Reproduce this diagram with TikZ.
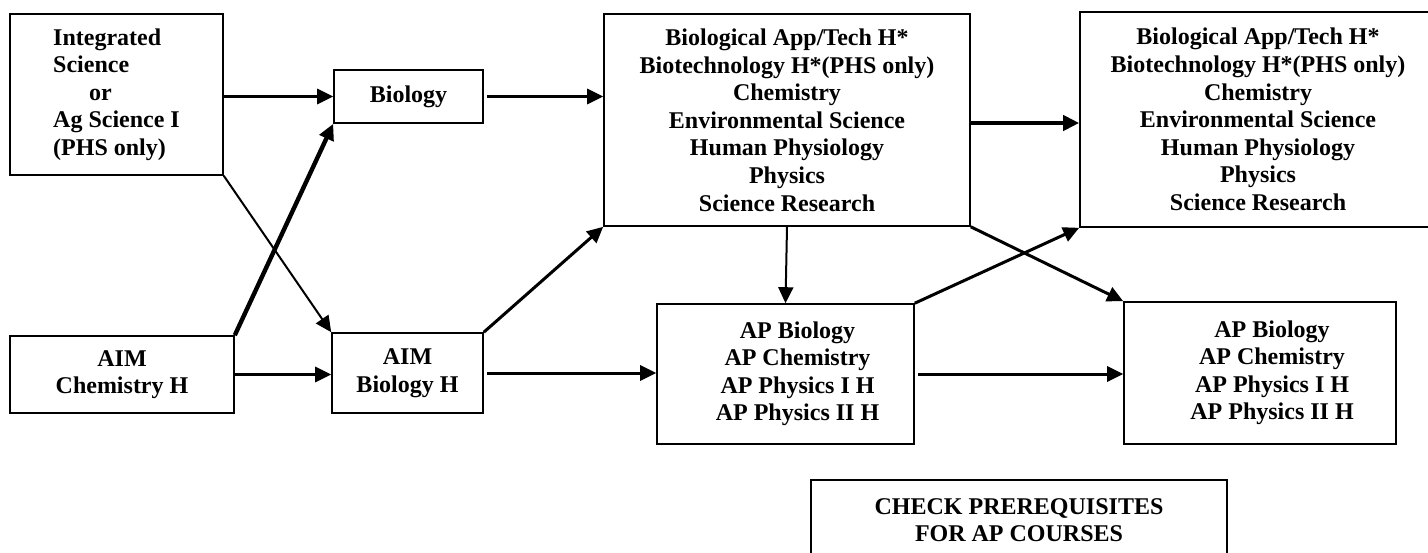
\documentclass[tikz,border=0pt]{standalone}
\usepackage{fontspec}
\setmainfont{Liberation Serif}
\usetikzlibrary{arrows.meta,positioning}
\tikzset{
    %Define standard arrow tip
    >={Triangle[length=8pt,width=7.5pt]},
    %Define style for boxes
    box/.style={
           rectangle,
           draw=black, line width=0.8pt,
           inner sep=0pt,
           align=center,
           font=\bfseries\fontsize{12}{13.8}\selectfont},
    % Define arrow styles
    imply/.style={
           ->,
           line width=1.5pt},
    slim/.style={
           ->,
           line width=1pt},
    heavy/.style={
           ->,
           line width=2.2pt}
}

\begin{document}
\begin{tikzpicture}[x=0.5pt,y=-0.5pt]
    \useasboundingbox (0,0) rectangle (1428,552);
 %nodes
    \node[box, align=left, minimum width=106.5pt, minimum height=80.5pt] (integ) at (116.5,94.5)
        {Integrated\\Science\\\hspace*{18pt}or\\Ag Science I\\(PHS only)};
    \node[box, minimum width=74.5pt, minimum height=26.5pt] (bio) at (408.5,96.5) {Biology};
    \node[box, minimum width=112pt, minimum height=38.5pt] (aimchem) at (122,374.5) {AIM\\Chemistry H};
    \node[box, minimum width=75.5pt, minimum height=40pt] (aimbio) at (407.5,373) {AIM\\Biology H};
    \node[box, minimum width=183pt, minimum height=106pt] (big1) at (787,120)
        {Biological App/Tech H*\\Biotechnology H*(PHS only)\\Chemistry\\Environmental Science\\Human Physiology\\Physics\\Science Research};
    \node[box, minimum width=178pt, minimum height=107.5pt] (big2) at (1258,119.5)
        {Biological App/Tech H*\\Biotechnology H*(PHS only)\\Chemistry\\Environmental Science\\Human Physiology\\Physics\\Science Research};
    \node[box, minimum width=128.5pt, minimum height=70pt] (ap1) at (785.5,374)
        {\begin{tabular}{@{\hspace{12pt}}c@{}}AP Biology\\AP Chemistry\\AP Physics I H\\AP Physics II H\end{tabular}};
    \node[box, minimum width=136pt, minimum height=71pt] (ap2) at (1260,373)
        {\begin{tabular}{@{\hspace{12pt}}c@{}}AP Biology\\AP Chemistry\\AP Physics I H\\AP Physics II H\end{tabular}};
    \node[box, minimum width=208pt, minimum height=40pt] (check) at (1019,520)
        {CHECK PREREQUISITES\\FOR AP COURSES};
 %edges
    \draw[imply] (integ.east |- bio.west) -- (bio.west);
    \draw[imply, shorten <=1.5pt] (bio.east) -- (bio.east -| big1.west);
    \draw[heavy] (aimchem.north east) -- (bio.south west);
    \draw[slim] (integ.south east) -- (aimbio.north west);
    \draw[imply] (aimchem.east) -- (aimchem.east -| aimbio.west);
    \draw[imply] (aimbio.north east) -- (big1.south west);
    \draw[imply, shorten <=1.5pt] (aimbio.east) -- (aimbio.east -| ap1.west);
    \draw[heavy] ([yshift=-1.5pt]big1.east) -- ([yshift=-1.5pt]big1.east -| big2.west);
    \draw[slim] (big1.south) -- (ap1.north);
    \draw[imply] (big1.south east) -- (ap2.north west);
    \draw[imply] (ap1.north east) -- (big2.south west);
    \draw[imply, shorten <=1.5pt] (ap1.east) -- (ap1.east -| ap2.west);
\end{tikzpicture}
\end{document}
